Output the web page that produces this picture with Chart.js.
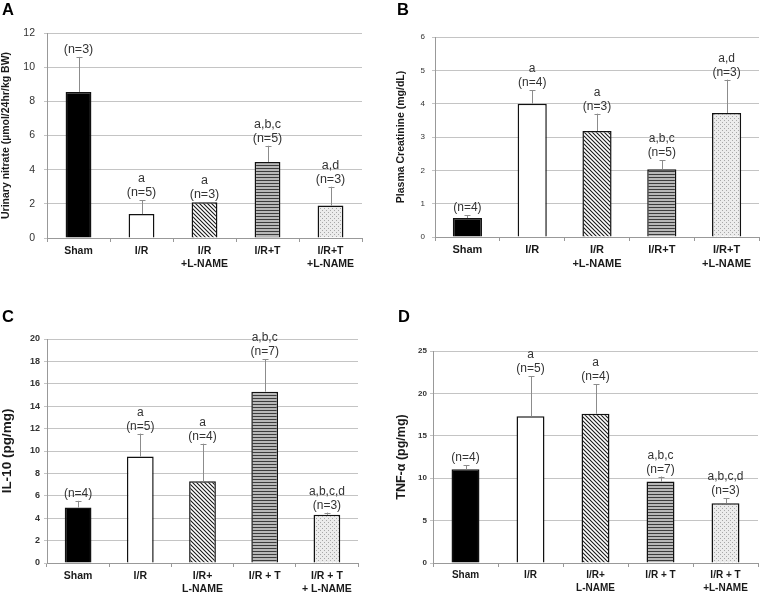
<!DOCTYPE html>
<html>
<head>
<meta charset="utf-8">
<script src="https://cdn.jsdelivr.net/npm/chart.js@4.4.1/dist/chart.umd.min.js"></script>
<style>
  body { margin: 0; background: #fff; width: 760px; height: 592px; position: relative; overflow: hidden; font-family: "Liberation Sans", Arial, sans-serif; }
  canvas { position: absolute; }
  .letter { position: absolute; font-weight: bold; font-size: 16.5px; line-height: 1; color: #000; }
</style>
</head>
<body>
<canvas id="cA" width="380" height="290" style="left:0;top:0"></canvas>
<canvas id="cB" width="380" height="290" style="left:380px;top:0"></canvas>
<canvas id="cC" width="380" height="302" style="left:0;top:290px"></canvas>
<canvas id="cD" width="380" height="302" style="left:380px;top:290px"></canvas>
<div class="letter" style="left:2px;top:1px">A</div>
<div class="letter" style="left:397px;top:1px">B</div>
<div class="letter" style="left:2px;top:308px">C</div>
<div class="letter" style="left:398px;top:308px">D</div>
<script>
// categories per panel
const catsA = ["Sham", "I/R", ["I/R", "+L-NAME"], "I/R+T", ["I/R+T", "+L-NAME"]];
const catsB = ["Sham", "I/R", ["I/R", "+L-NAME"], "I/R+T", ["I/R+T", "+L-NAME"]];
const catsC = ["Sham", "I/R", ["I/R+", "L-NAME"], "I/R + T", ["I/R + T", "+ L-NAME"]];
const catsD = ["Sham", "I/R", ["I/R+", "L-NAME"], "I/R + T", ["I/R + T", "+L-NAME"]];

// means and upper error (SEM) per panel
const nitrate = [8.55, 1.4, 2.1, 4.45, 1.9];
const nitrateErr = [2.05, 0.8, 0, 0.95, 1.1];
const creatinine = [0.57, 4.0, 3.18, 2.03, 3.72];
const creatinineErr = [0.08, 0.4, 0.52, 0.27, 1.0];
const il10 = [4.95, 9.5, 7.3, 15.3, 4.3];
const il10Err = [0.6, 2.05, 3.35, 2.9, 0.2];
const tnf = [11.05, 17.3, 17.6, 9.6, 7.05];
const tnfErr = [0.45, 4.7, 3.5, 0.6, 0.6];

// significance letters and group sizes
const notesA = [["(n=3)"], ["a", "(n=5)"], ["a", "(n=3)"], ["a,b,c", "(n=5)"], ["a,d", "(n=3)"]];
const notesB = [["(n=4)"], ["a", "(n=4)"], ["a", "(n=3)"], ["a,b,c", "(n=5)"], ["a,d", "(n=3)"]];
const notesC = [["(n=4)"], ["a", "(n=5)"], ["a", "(n=4)"], ["a,b,c", "(n=7)"], ["a,b,c,d", "(n=3)"]];
const notesD = [["(n=4)"], ["a", "(n=5)"], ["a", "(n=4)"], ["a,b,c", "(n=7)"], ["a,b,c,d", "(n=3)"]];

const FONT = '"Liberation Sans", Arial, sans-serif';
Chart.defaults.font.family = FONT;
Chart.defaults.color = "#222";

function pattern(w, h, draw) {
  const c = document.createElement("canvas");
  c.width = w; c.height = h;
  const g = c.getContext("2d");
  draw(g);
  return g.createPattern(c, "repeat");
}

const diag = pattern(4, 4, g => {
  g.fillStyle = "#fff"; g.fillRect(0, 0, 4, 4);
  g.strokeStyle = "#1a1a1a"; g.lineWidth = 1.1;
  g.beginPath();
  g.moveTo(-1, -1); g.lineTo(5, 5);
  g.moveTo(-1, 3); g.lineTo(1, 5);
  g.moveTo(3, -1); g.lineTo(5, 1);
  g.stroke();
});
const stripes = pattern(1, 3, g => {
  g.fillStyle = "#b8b8b8"; g.fillRect(0, 0, 1, 3);
  g.fillStyle = "#3c3c3c"; g.fillRect(0, 0, 1, 1);
});
const dots = pattern(4, 4, g => {
  g.fillStyle = "#ececec"; g.fillRect(0, 0, 4, 4);
  g.fillStyle = "#a8a8a8"; g.fillRect(0, 0, 1, 1); g.fillRect(2, 2, 1, 1);
});
const fills = ["#000", "#fff", diag, stripes, dots];

const errorNotes = {
  id: "errorNotes",
  afterDatasetsDraw(chart, args, o) {
    const { ctx } = chart;
    const y = chart.scales.y;
    const vals = chart.data.datasets[0].data;
    ctx.save();
    chart.getDatasetMeta(0).data.forEach((bar, i) => {
      const x = Math.round(bar.x) + 0.5;
      const top = y.getPixelForValue(vals[i] + o.errs[i]);
      if (o.errs[i] > 0) {
        ctx.strokeStyle = "#8c8c8c";
        ctx.lineWidth = 1;
        ctx.beginPath();
        ctx.moveTo(x, bar.y); ctx.lineTo(x, top);
        ctx.moveTo(x - 3, Math.round(top) + 0.5); ctx.lineTo(x + 3, Math.round(top) + 0.5);
        ctx.stroke();
      }
      ctx.fillStyle = "#333";
      ctx.font = o.noteSize + "px " + FONT;
      ctx.textAlign = "center";
      ctx.textBaseline = "alphabetic";
      const lines = o.notes[i];
      lines.forEach((t, k) => ctx.fillText(t, bar.x, top - 4 - (lines.length - 1 - k) * 14));
    });
    ctx.restore();
  }
};

function panel(id, p) {
  const cv = document.getElementById(id);
  return new Chart(cv, {
    type: "bar",
    data: {
      labels: p.cats,
      datasets: [{
        data: p.values,
        backgroundColor: fills,
        borderColor: "#111",
        borderWidth: 1.5,
        barPercentage: 1,
        categoryPercentage: p.barFrac
      }]
    },
    options: {
      responsive: false,
      animation: false,
      layout: { padding: { left: 0, top: p.area.top, right: cv.width - p.area.right, bottom: 0 } },
      plugins: {
        legend: { display: false },
        tooltip: { enabled: false },
        errorNotes: { errs: p.errs, notes: p.notes, noteSize: p.noteSize }
      },
      scales: {
        x: {
          afterFit: s => { s.height = cv.height - p.area.bottom; },
          grid: { drawOnChartArea: false, drawTicks: true, tickLength: 4, color: "#999" },
          border: { color: "#999" },
          ticks: { padding: 2, color: "#1a1a1a", font: { size: p.xSize, weight: "bold", lineHeight: 1.3 }, maxRotation: 0, autoSkip: false }
        },
        y: {
          min: 0, max: p.max,
          afterFit: s => { s.width = p.area.left; },
          grid: { color: "#c4c4c4", drawTicks: true, tickLength: 3 },
          border: { color: "#999" },
          ticks: { stepSize: p.step, padding: p.tickGap - 3, color: "#333", font: p.tickFont },
          title: {
            display: true, text: p.title, color: "#1a1a1a",
            font: { size: p.titleSize, weight: "bold", lineHeight: 1 },
            padding: { top: p.titleX - p.titleSize / 2, bottom: 0 }
          }
        }
      }
    },
    plugins: [errorNotes]
  });
}

panel("cA", {
  cats: catsA, values: nitrate, errs: nitrateErr, notes: notesA, noteSize: 12.5,
  max: 12, step: 2, barFrac: 0.41,
  area: { left: 47, top: 33, right: 362, bottom: 238 },
  title: "Urinary nitrate (µmol/24hr/kg BW)", titleSize: 10.5, titleX: 6.5,
  tickFont: { size: 10.5 }, tickGap: 12, xSize: 10.5
});
panel("cB", {
  cats: catsB, values: creatinine, errs: creatinineErr, notes: notesB, noteSize: 12,
  max: 6, step: 1, barFrac: 0.45,
  area: { left: 55, top: 37, right: 379, bottom: 237 },
  title: "Plasma Creatinine (mg/dL)", titleSize: 10.5, titleX: 21,
  tickFont: { size: 8 }, tickGap: 10, xSize: 11
});
panel("cC", {
  cats: catsC, values: il10, errs: il10Err, notes: notesC, noteSize: 12,
  max: 20, step: 2, barFrac: 0.43,
  area: { left: 47, top: 49, right: 358, bottom: 273 },
  title: "IL-10 (pg/mg)", titleSize: 13.5, titleX: 7,
  tickFont: { size: 9, weight: "bold" }, tickGap: 7, xSize: 10.5
});
panel("cD", {
  cats: catsD, values: tnf, errs: tnfErr, notes: notesD, noteSize: 12,
  max: 25, step: 5, barFrac: 0.43,
  area: { left: 53, top: 61, right: 378, bottom: 273 },
  title: "TNF-α (pg/mg)", titleSize: 12.5, titleX: 22,
  tickFont: { size: 8, weight: "bold" }, tickGap: 6, xSize: 10
});
</script>
</body>
</html>
